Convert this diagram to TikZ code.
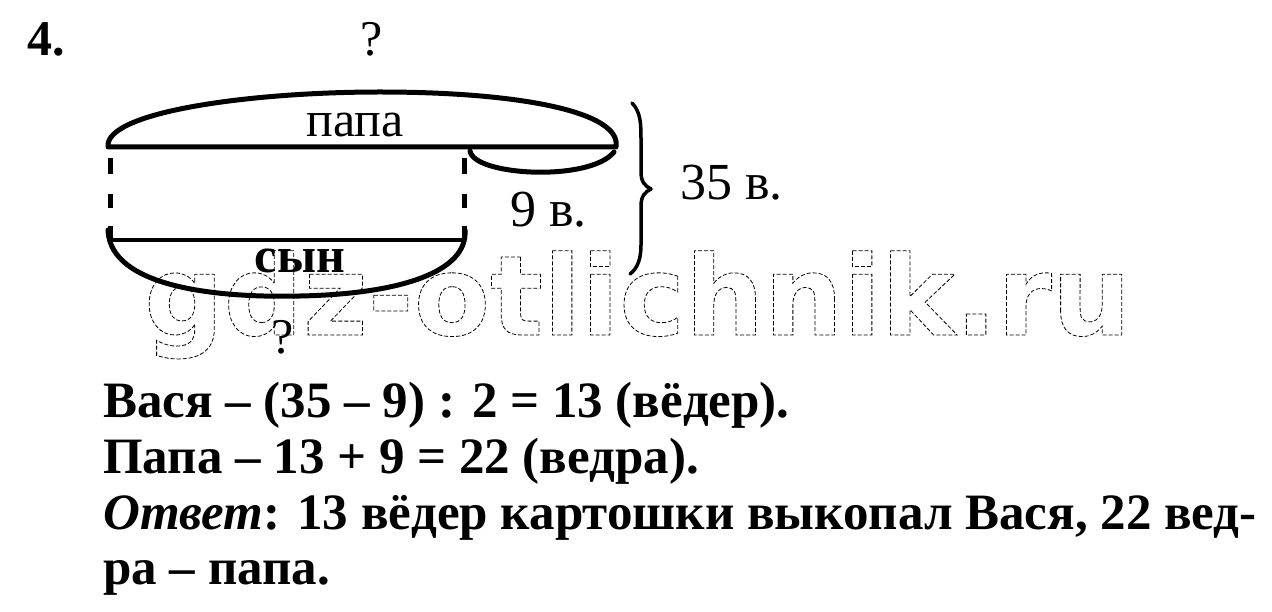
\documentclass[tikz,border=0pt]{standalone}
\usepackage{fontspec}
\setmainfont{Liberation Serif}
\newfontfamily\wmfont{DejaVu Sans}
\begin{document}
\begin{tikzpicture}[x=1pt,y=-1pt,
  thick line/.style={line width=5pt, line cap=round, line join=round},
  sol/.style={font=\fontsize{51}{56}\selectfont\bfseries, anchor=base west, inner sep=0pt},
  lbl/.style={font=\fontsize{50}{56}\selectfont, anchor=base, inner sep=0pt},
  numlbl/.style={font=\fontsize{52}{56}\selectfont, anchor=base west, inner sep=0pt}]
\useasboundingbox (0,0) rectangle (1272,612);
% watermark
\node[font=\wmfont\bfseries\fontsize{111}{111}\selectfont, anchor=base west, inner sep=0pt, color=black] (wm) at (144,335)
  {\special{pdf:literal direct 1 Tr 0.8 w [4 2] 0 d}gdz-otlichnik.ru\special{pdf:literal direct 0 Tr [] 0 d}};
% number
\node[font=\fontsize{50}{56}\selectfont\bfseries, anchor=base west, inner sep=0pt] (num) at (27,56) {4.};
\node[lbl] (qtop) at (372,56) {?};
% top shape
\draw[thick line] (108,147) .. controls (104,112) and (250,92) .. (380,92)
   .. controls (520,92) and (622,112) .. (616,147) -- cycle;
\draw[thick line] (470,151) .. controls (474,176) and (590,182) .. (614,152);
% dashed sides
\draw[line width=5pt] (110,158) -- (110,174) (110,194) -- (110,208) (110,226) -- (110,240);
\draw[line width=5pt] (464,158) -- (464,174) (464,194) -- (464,208) (464,226) -- (464,240);
% bottom shape
\draw[line width=4pt] (108,240) -- (465,240);
\draw[thick line] (108,230) .. controls (110,288) and (220,298) .. (300,296)
   .. controls (400,294) and (468,272) .. (465,230);
\node[lbl] (papa) at (355,137) {папа};
\node[lbl, font=\fontsize{50}{56}\selectfont\bfseries] (syn) at (300,273) {сын};
\node[lbl] (qbot) at (283,353) {?};
\node[numlbl] (nine) at (510,227) {9 в.};
% brace
\draw[line width=3.5pt, line cap=round, line join=round] (632,103) .. controls (641,112) and (641,125) .. (641,140)
   -- (641,172) .. controls (641,182) and (645,186) .. (651,189)
   .. controls (645,192) and (641,196) .. (641,206)
   -- (641,245) .. controls (641,258) and (638,268) .. (630,274);
\node[numlbl] (total) at (680,200) {35 в.};
% solution
\node[sol] (l1) at (103,417) {Вася – (35 – 9) : 2 = 13 (вёдер).};
\node[sol] (l2) at (103,473) {Папа – 13 + 9 = 22 (ведра).};
\node[sol] (l3) at (103,529) {\textit{Ответ}: 13 вёдер картошки выкопал Вася, 22 вед-};
\node[sol] (l4) at (103,584) {ра – папа.};
\end{tikzpicture}
\end{document}
